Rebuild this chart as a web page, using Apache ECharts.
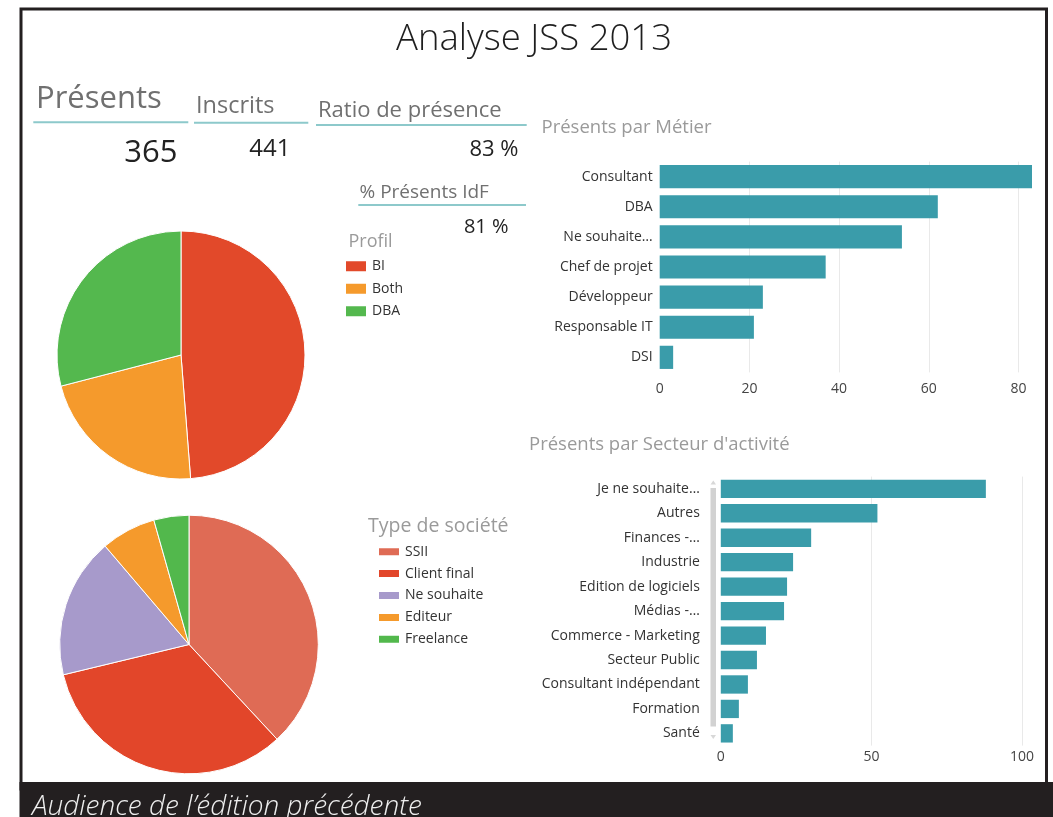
<!DOCTYPE html>
<html><head><meta charset="utf-8">
<script src="https://cdn.jsdelivr.net/npm/echarts@6/dist/echarts.min.js"></script>
<style>html,body{margin:0;padding:0;background:#fff}#c{width:1053px;height:817px}</style>
</head><body><div id="c"></div>
<script>
// ---------- data ----------
const pageTitle = 'Analyse JSS 2013';
const caption = 'Audience de l\u2019édition précédente';
const kpiLabels = ['Présents', 'Inscrits', 'Ratio de présence', '% Présents IdF'];
const kpiValues = ['365', '441', '83 %', '81 %'];
const profilTitle = 'Profil';
const profilCategories = ['BI', 'Both', 'DBA'];
const profilValues = [178, 81, 106];
const societeTitle = 'Type de société';
const societeCategories = ['SSII', 'Client final', 'Ne souhaite pas répondre', 'Editeur', 'Freelance'];
const societeValues = [139, 121, 64, 25, 16];
const metierTitle = 'Présents par Métier';
const metierCategories = ['Consultant', 'DBA', 'Ne souhaite…', 'Chef de projet', 'Développeur', 'Responsable IT', 'DSI'];
const metierValues = [83, 62, 54, 37, 23, 21, 3];
const metierTicks = [0, 20, 40, 60, 80];
const secteurTitle = "Présents par Secteur d'activité";
const secteurCategories = ['Je ne souhaite…', 'Autres', 'Finances -…', 'Industrie', 'Edition de logiciels', 'Médias -…',
  'Commerce - Marketing', 'Secteur Public', 'Consultant indépendant', 'Formation', 'Santé'];
const secteurValues = [88, 52, 30, 24, 22, 21, 15, 12, 9, 6, 4];
const secteurTicks = [0, 50, 100];

// ---------- styles ----------
const FONT = '"Open Sans", "Noto Sans", sans-serif';
const profilColors = ['#E2492A', '#F59A2C', '#54B84E'];
const societeColors = ['#DF6B55', '#E2462A', '#A79ACB', '#F59A2C', '#52B84C'];
const barColor = '#3A9CAA';
const lineColor = '#8DC9CB';

const chart = echarts.init(document.getElementById('c'), null, {renderer: 'canvas'});

function txt(text, x, y, size, color, align, extra) {
  return {
    type: 'text', x: x, y: y, silent: true,
    style: Object.assign({
      text: text, fontFamily: FONT, fontSize: size, fill: color,
      align: align || 'left', verticalAlign: 'middle'
    }, extra || {})
  };
}
function hline(x1, x2, y) {
  return {type: 'line', silent: true, shape: {x1: x1, y1: y, x2: x2, y2: y}, style: {stroke: lineColor, lineWidth: 2}};
}

const graphics = [
  // frame
  {type: 'rect', silent: true, shape: {x: 21, y: 9, width: 1025.5, height: 780}, style: {fill: null, stroke: '#231F20', lineWidth: 3}},
  {type: 'rect', silent: true, shape: {x: 19.5, y: 782, width: 1034, height: 36}, style: {fill: '#231F20'}},
  txt(caption, 32, 807, 28, '#EFEFEF', 'left', {fontStyle: 'italic', fontWeight: 300}),
  // title
  txt(pageTitle, 534, 40, 36.5, '#1E1E1E', 'center', {fontWeight: 300}),
  // KPI headers
  txt(kpiLabels[0], 36, 99.5, 31, '#707070'),
  hline(33.3, 188.3, 122.3),
  txt(kpiLabels[1], 196, 106, 23.5, '#707070'),
  hline(194, 308.3, 122.7),
  txt(kpiLabels[2], 318, 110.4, 22, '#707070'),
  hline(316, 526.7, 125),
  txt(kpiValues[0], 177.5, 152.9, 31, '#222', 'right'),
  txt(kpiValues[1], 290.5, 149.2, 24, '#222', 'right'),
  txt(kpiValues[2], 518.5, 149.7, 22, '#222', 'right'),
  txt(kpiLabels[3], 359.5, 192.9, 19, '#707070'),
  hline(358.3, 526, 205),
  txt(kpiValues[3], 508.5, 227.6, 20, '#222', 'right'),
  // legend titles
  txt(profilTitle, 348.5, 241.6, 18, '#9A9A9A'),
  txt(societeTitle, 368, 526.3, 19.5, '#9A9A9A'),
  // bar chart titles
  txt(metierTitle, 541.5, 128, 18.5, '#9A9A9A'),
  txt(secteurTitle, 529, 444.8, 18.5, '#9A9A9A'),
  // scrollbar (decoration)
  {type: 'rect', silent: true, shape: {x: 710.5, y: 488, width: 5.5, height: 238.5}, style: {fill: '#D2D2D2'}},
  {type: 'polygon', silent: true, shape: {points: [[710.5, 484.5], [716, 484.5], [713.25, 480.5]]}, style: {fill: '#D8D8D8'}},
  {type: 'polygon', silent: true, shape: {points: [[710.5, 735], [716, 735], [713.25, 739]]}, style: {fill: '#D8D8D8'}}
];

const option = {
  animation: false,
  backgroundColor: '#fff',
  textStyle: {fontFamily: FONT},
  graphic: graphics,
  legend: [
    {
      data: profilCategories, orient: 'vertical', left: 339, top: 254.3, padding: 5,
      icon: 'rect', itemWidth: 22, itemHeight: 12, itemGap: 8.5, selectedMode: false,
      textStyle: {fontFamily: FONT, fontSize: 14, color: '#333'}
    },
    {
      data: societeCategories, orient: 'vertical', left: 372, top: 539.7, padding: 5,
      icon: 'rect', itemWidth: 22, itemHeight: 9, itemGap: 7.9, selectedMode: false,
      textStyle: {fontFamily: FONT, fontSize: 14, color: '#333', width: 84, overflow: 'truncate', ellipsis: ''}
    }
  ],
  grid: [
    {left: 659.7, top: 161.6, width: 372.3, height: 210.8, containLabel: false},
    {left: 720.8, top: 476.6, width: 301.2, height: 269, containLabel: false}
  ],
  xAxis: [
    {
      gridIndex: 0, type: 'value', min: 0, max: 83, interval: 20,
      axisLine: {show: false}, axisTick: {show: false},
      axisLabel: {margin: 10, fontSize: 14, color: '#444', showMaxLabel: false,
        formatter: v => metierTicks.indexOf(v) >= 0 ? String(v) : ''},
      splitLine: {show: true, showMinLine: false, showMaxLine: false, lineStyle: {color: '#E9E9E9', width: 1}}
    },
    {
      gridIndex: 1, type: 'value', min: 0, max: 100, interval: 50,
      axisLine: {show: false}, axisTick: {show: false},
      axisLabel: {margin: 4, fontSize: 14, color: '#444',
        formatter: v => secteurTicks.indexOf(v) >= 0 ? String(v) : ''},
      splitLine: {show: true, showMinLine: false, lineStyle: {color: '#E9E9E9', width: 1}}
    }
  ],
  yAxis: [
    {
      gridIndex: 0, type: 'category', data: metierCategories, inverse: true,
      axisLine: {show: false}, axisTick: {show: false},
      axisLabel: {margin: 7, fontSize: 14, color: '#333'}
    },
    {
      gridIndex: 1, type: 'category', data: secteurCategories, inverse: true,
      axisLine: {show: false}, axisTick: {show: false},
      axisLabel: {margin: 21, fontSize: 14, color: '#333'}
    }
  ],
  series: [
    {
      type: 'pie', name: profilTitle, center: [181, 355], radius: 124, startAngle: 90, clockwise: true,
      label: {show: false}, labelLine: {show: false}, emphasis: {disabled: true}, silent: true,
      itemStyle: {borderColor: '#fff', borderWidth: 1},
      data: profilCategories.map((c, i) => ({name: c, value: profilValues[i], itemStyle: {color: profilColors[i]}}))
    },
    {
      type: 'pie', name: societeTitle, center: [189, 644.5], radius: 129.3, startAngle: 90, clockwise: true,
      label: {show: false}, labelLine: {show: false}, emphasis: {disabled: true}, silent: true,
      itemStyle: {borderColor: '#fff', borderWidth: 1},
      data: societeCategories.map((c, i) => ({name: c, value: societeValues[i], itemStyle: {color: societeColors[i]}}))
    },
    {
      type: 'bar', name: metierTitle, xAxisIndex: 0, yAxisIndex: 0, data: metierValues,
      barCategoryGap: '23%', itemStyle: {color: barColor}, silent: true
    },
    {
      type: 'bar', name: secteurTitle, xAxisIndex: 1, yAxisIndex: 1, data: secteurValues,
      barCategoryGap: '25%', itemStyle: {color: barColor}, silent: true
    }
  ]
};
chart.setOption(option);
</script>
</body></html>
